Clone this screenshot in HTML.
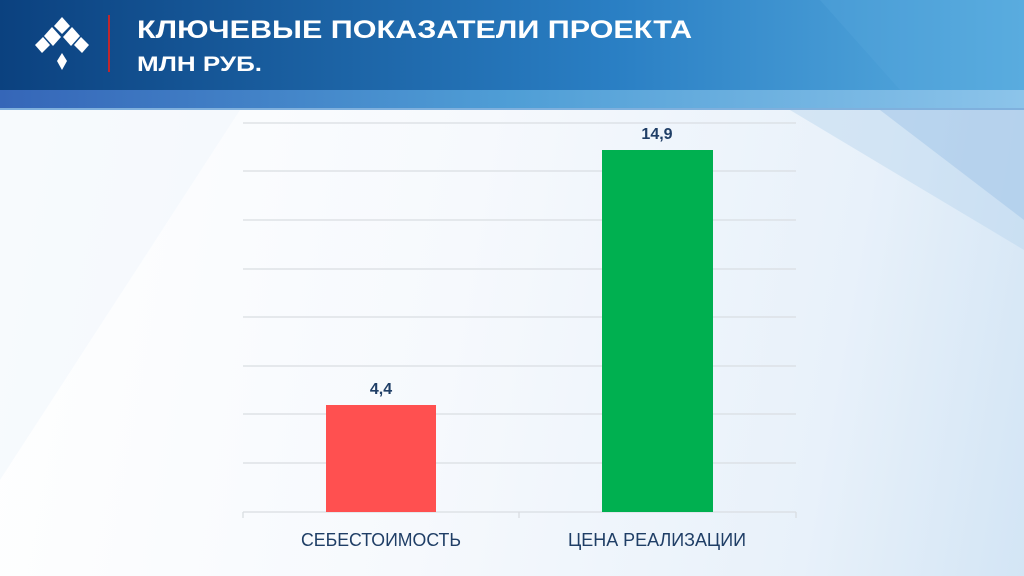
<!DOCTYPE html>
<html><head><meta charset="utf-8"><style>
body{margin:0;width:1024px;height:576px;overflow:hidden;font-family:"Liberation Sans",sans-serif;}
#bg{position:absolute;left:0;top:0;width:1024px;height:576px;background:linear-gradient(100deg,#ffffff 0%,#f6f9fd 45%,#e8f1fa 80%,#d3e5f5 100%);}
</style></head><body>
<div id="bg"></div>
<svg width="1024" height="576" style="position:absolute;left:0;top:0">
<defs>
<linearGradient id="hd" x1="0" x2="1"><stop offset="0" stop-color="#0b417f"/><stop offset="0.6" stop-color="#2a7fc4"/><stop offset="1" stop-color="#5aaee0"/></linearGradient>
<linearGradient id="st" x1="0" x2="1"><stop offset="0" stop-color="#3566b8"/><stop offset="0.5" stop-color="#4f9ed6"/><stop offset="1" stop-color="#8cc4ea"/></linearGradient>
</defs>
<polygon points="0,110 0,480 240,110" fill="#f2f6fb" opacity="0.6"/>
<polygon points="790,110 1024,110 1024,250" fill="#b9d5ee" opacity="0.45"/>
<polygon points="880,110 1024,220 1024,110" fill="#9cc1e6" opacity="0.45"/>
<rect x="0" y="0" width="1024" height="90" fill="url(#hd)"/>
<polygon points="820,0 1024,0 1024,90 900,90" fill="#5aa8dd" opacity="0.3"/>
<rect x="0" y="90" width="1024" height="20" fill="url(#st)"/>
<rect x="0" y="108" width="1024" height="2" fill="#7fb0dd"/>
<!-- logo -->
<g fill="#fff">
<polygon points="62,17 70,26 62,34 54,26"/>
<polygon points="52,27 61,37 53,46 44,36"/>
<polygon points="72,27 80,36 71,46 63,37"/>
<polygon points="43,37 50,45 42,53 35,45"/>
<polygon points="81,37 89,45 82,53 74,45"/>
<polygon points="62,53 67,61 62,70 57,61"/>
</g>
<rect x="108" y="15" width="2" height="57" fill="#c0272d"/>
<text x="137" y="38" fill="#fff" font-size="25" font-weight="bold" textLength="555" lengthAdjust="spacingAndGlyphs">КЛЮЧЕВЫЕ ПОКАЗАТЕЛИ ПРОЕКТА</text>
<text x="137" y="71" fill="#fff" font-size="21" font-weight="bold" textLength="125" lengthAdjust="spacingAndGlyphs">МЛН РУБ.</text>
<g stroke="#d9dde2" stroke-width="1.3">
<line x1="243" x2="796" y1="123" y2="123"/><line x1="243" x2="796" y1="171" y2="171"/>
<line x1="243" x2="796" y1="220" y2="220"/><line x1="243" x2="796" y1="269" y2="269"/>
<line x1="243" x2="796" y1="317" y2="317"/><line x1="243" x2="796" y1="366" y2="366"/>
<line x1="243" x2="796" y1="414" y2="414"/><line x1="243" x2="796" y1="463" y2="463"/>
<line x1="243" x2="796" y1="512" y2="512"/>
<line x1="243" x2="243" y1="512" y2="518"/><line x1="519" x2="519" y1="512" y2="518"/><line x1="796" x2="796" y1="512" y2="518"/>
</g>
<rect x="326" y="405" width="110" height="107" fill="#ff5050"/>
<rect x="602" y="150" width="111" height="362" fill="#00b050"/>
<g font-weight="bold" fill="#1f3e66" font-size="16" text-anchor="middle">
<text x="381" y="394">4,4</text><text x="657" y="139">14,9</text>
</g>
<g fill="#1f3e66" font-size="18" text-anchor="middle">
<text x="381" y="546" textLength="160" lengthAdjust="spacingAndGlyphs">СЕБЕСТОИМОСТЬ</text>
<text x="657" y="546" textLength="178" lengthAdjust="spacingAndGlyphs">ЦЕНА РЕАЛИЗАЦИИ</text>
</g>
</svg>
</body></html>
